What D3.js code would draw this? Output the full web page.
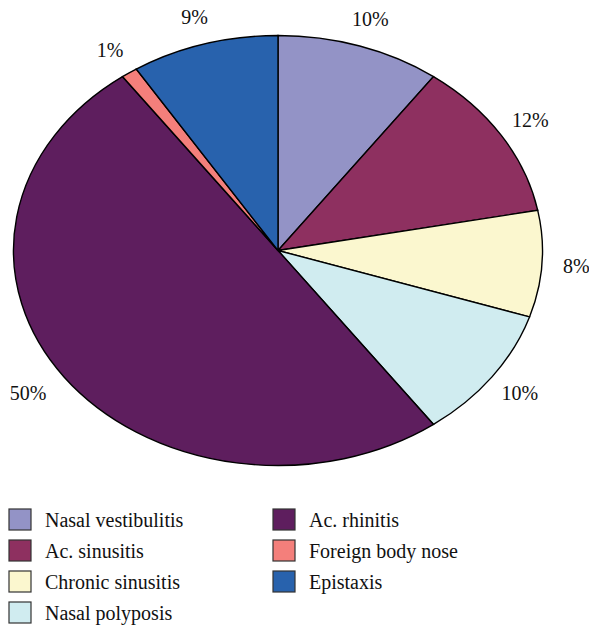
<!DOCTYPE html>
<html><head><meta charset="utf-8">
<script src="https://cdn.jsdelivr.net/npm/d3@7"></script>
<style>body{margin:0;background:#fff}svg{display:block}</style>
</head><body>
<svg id="c" width="589" height="626"></svg>
<script>
const categories = ["Nasal vestibulitis","Ac. sinusitis","Chronic sinusitis","Nasal polyposis","Ac. rhinitis","Foreign body nose","Epistaxis"];
const values = [10,12,8,10,50,1,9];
const labels = ["10%","12%","8%","10%","50%","1%","9%"];
const colors = ["#9393c6","#8e3060","#fbf7cf","#d0ecf0","#5e1e5e","#f47f7b","#2862ad"];

const FONT = '"Liberation Serif"';
const FS = 20;
const svg = d3.select("#c");
const cx = 278, cy = 250.5, rx = 264.5, ry = 215;
const data = categories.map((c,i)=>({name:c,value:values[i],label:labels[i],color:colors[i]}));
const pie = d3.pie().value(d=>d.value).sort(null);
const arcs = pie(data);
const arc = d3.arc().innerRadius(0).outerRadius(1);
const g = svg.append("g").attr("transform",`translate(${cx},${cy}) scale(${rx},${ry})`);
g.selectAll("path").data(arcs).join("path")
  .attr("d",arc).attr("fill",d=>d.data.color)
  .attr("stroke","#000").attr("stroke-width",1.4).attr("vector-effect","non-scaling-stroke");

const k = 1.13;
svg.selectAll("text.lab").data(arcs).join("text").attr("class","lab")
  .attr("x",d=>{const a=(d.startAngle+d.endAngle)/2;return cx+k*rx*Math.sin(a)-(d.index===4?8:0);})
  .attr("y",d=>{const a=(d.startAngle+d.endAngle)/2;return cy-k*ry*Math.cos(a);})
  .attr("text-anchor","middle").attr("dominant-baseline","central")
  .attr("font-family",FONT).attr("fill","#111")
  .attr("font-size",FS).text(d=>d.data.label);

const leg = svg.append("g");
const rowY = d3.scaleLinear().domain([0,3]).range([520,613]);
const colX = [9,273];
data.forEach((d,i)=>{
  const col = i<4?0:1, row = i<4?i:i-4;
  const y = rowY(row), x = colX[col];
  leg.append("rect").attr("x",x).attr("y",y-11).attr("width",22).attr("height",21)
    .attr("fill",d.color).attr("stroke","#333").attr("stroke-width",1.2);
  leg.append("text").attr("x",x+36).attr("y",y).attr("dominant-baseline","central")
    .attr("font-family",FONT).attr("fill","#111")
    .attr("font-size",FS).text(d.name);
});
</script>
</body></html>
